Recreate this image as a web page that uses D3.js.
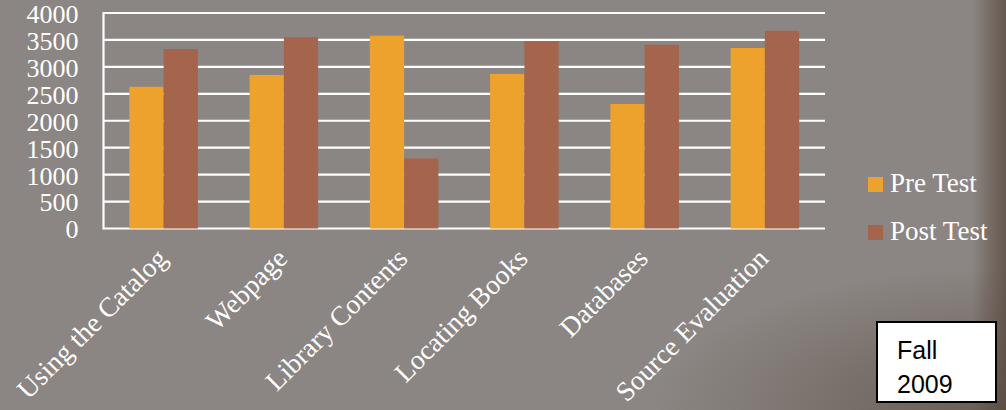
<!DOCTYPE html>
<html><head><meta charset="utf-8">
<script src="https://cdn.jsdelivr.net/npm/d3@7"></script>
<style>html,body{margin:0;padding:0;background:#8b8683;overflow:hidden}</style>
</head><body><svg id="c" width="1006" height="410"></svg>
<script>
const categories = ["Using the Catalog","Webpage","Library Contents","Locating Books","Databases","Source Evaluation"];
const preTest  = [2630, 2850, 3580, 2870, 2310, 3350];
const postTest = [3330, 3550, 1300, 3480, 3410, 3670];
const seriesNames = ["Pre Test","Post Test"];
const seriesColors = ["#eda22e","#a5644c"];
const yTicks = [0,500,1000,1500,2000,2500,3000,3500,4000];
const noteLines = ["Fall","2009"];

(function(){
const svg = d3.select("#c");
const W = 1006, H = 410;
const defs = svg.append("defs");
const gr = defs.append("linearGradient").attr("id","edge").attr("x1","0").attr("x2","1").attr("y1","0").attr("y2","0");
gr.append("stop").attr("offset","0").attr("stop-color","#6a5d54").attr("stop-opacity",0);
gr.append("stop").attr("offset","0.5").attr("stop-color","#6a5d54").attr("stop-opacity",0.6);
gr.append("stop").attr("offset","1").attr("stop-color","#5a4c42").attr("stop-opacity",0.8);
const gb = defs.append("radialGradient").attr("id","corner").attr("cx","1").attr("cy","1").attr("r","0.35");
gb.append("stop").attr("offset","0").attr("stop-color","#5a4a3f").attr("stop-opacity",0.7);
gb.append("stop").attr("offset","1").attr("stop-color","#5a4a3f").attr("stop-opacity",0);
svg.append("rect").attr("width",W).attr("height",H).attr("fill","#8b8683");
svg.append("rect").attr("x",972).attr("width",W-972).attr("height",H).attr("fill","url(#edge)");
svg.append("rect").attr("width",W).attr("height",H).attr("fill","url(#corner)");

const pL = 103.5, pR = 825, pT = 13, pB = 228.5;
const x0 = d3.scaleBand().domain(categories).range([pL, pR]).paddingInner(0.43).paddingOuter(0.215);
const x1 = d3.scaleBand().domain(seriesNames).range([0, x0.bandwidth()]);
const y = d3.scaleLinear().domain([0,4000]).range([pB, pT]);

svg.append("g").selectAll("line").data(yTicks).join("line")
  .attr("x1", pL).attr("x2", pR)
  .attr("y1", d=>y(d)).attr("y2", d=>y(d))
  .attr("stroke","#ffffff").attr("stroke-width",2.2);

svg.append("line").attr("x1",pL).attr("x2",pL).attr("y1",y(4000)-1).attr("y2",y(0)+1)
  .attr("stroke","#fff").attr("stroke-width",2.2);

const yAxis = d3.axisLeft(y).tickValues(yTicks).tickSize(0).tickPadding(0).tickFormat(d3.format("d"));
const ya = svg.append("g").attr("transform",`translate(${pL-25},0)`).call(yAxis);
ya.select(".domain").remove();
ya.selectAll("text").attr("fill","#fff").attr("font-family","'Liberation Serif', serif").attr("font-size",26).attr("dy","0.36em");

const grp = svg.append("g").selectAll("g").data(categories).join("g")
  .attr("transform", d=>`translate(${x0(d)},0)`);
grp.selectAll("rect").data((d,i)=>[{s:0,v:preTest[i]},{s:1,v:postTest[i]}]).join("rect")
  .attr("x", d=>x1(seriesNames[d.s])).attr("width", x1.bandwidth())
  .attr("y", d=>y(d.v)).attr("height", d=>y(0)-y(d.v))
  .attr("fill", d=>seriesColors[d.s]);

svg.append("g").selectAll("text").data(categories).join("text")
  .attr("transform", d=>`translate(${x0(d)+x0.bandwidth()/2+5},260) rotate(-45)`)
  .attr("text-anchor","end").attr("fill","#fff")
  .attr("font-family","'Liberation Serif', serif").attr("font-size",27.5)
  .text(d=>d);

const lg = svg.append("g").selectAll("g").data(seriesNames).join("g")
  .attr("transform",(d,i)=>`translate(868,${177+i*48})`);
lg.append("rect").attr("width",15).attr("height",15).attr("fill",(d,i)=>seriesColors[i]);
lg.append("text").attr("x",22).attr("y",15).attr("fill","#fff")
  .attr("font-family","'Liberation Serif', serif").attr("font-size",27).text(d=>d);

svg.append("rect").attr("x",877).attr("y",322).attr("width",119).attr("height",80)
  .attr("fill","#fff").attr("stroke","#000").attr("stroke-width",2);
svg.append("g").selectAll("text").data(noteLines).join("text")
  .attr("x",897).attr("y",(d,i)=>359+i*34)
  .attr("font-family","'Liberation Sans', Arial, sans-serif").attr("font-size",25).attr("fill","#000")
  .text(d=>d);
})();
</script></body></html>
